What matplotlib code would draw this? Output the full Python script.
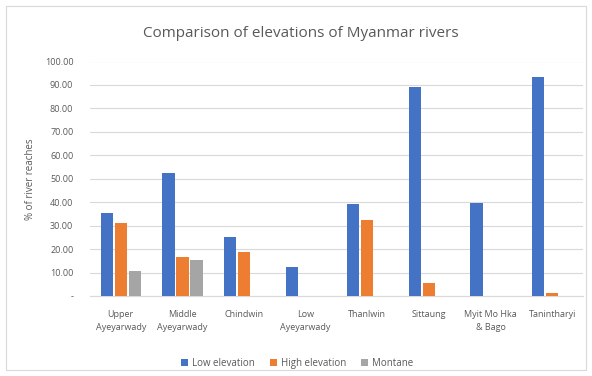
import matplotlib.pyplot as plt
import matplotlib.patches as patches
import numpy as np

rivers = ["Upper\nAyeyarwady", "Middle\nAyeyarwady", "Chindwin", "Low\nAyeyarwady",
          "Thanlwin", "Sittaung", "Myit Mo Hka\n& Bago", "Tanintharyi"]
low_elev = [35.3, 52.6, 25.3, 12.5, 39.3, 89.1, 39.8, 93.3]
high_elev = [31.0, 16.8, 18.8, 0, 32.4, 5.7, 0, 1.4]
montane = [10.8, 15.4, 0, 0, 0, 0, 0, 0]
yticks = [0, 10, 20, 30, 40, 50, 60, 70, 80, 90, 100]
ytick_labels = ["-", "10.00", "20.00", "30.00", "40.00", "50.00", "60.00",
                "70.00", "80.00", "90.00", "100.00"]

plt.rcParams['font.family'] = ['Open Sans', 'DejaVu Sans']
txt = '#595959'

fig = plt.figure(figsize=(5.92, 3.76), dpi=100)
ax = fig.add_axes([90/592, 1 - 296/376, 493/592, 234.5/376])

x = np.arange(len(rivers))
w = 0.2
step = 0.227
ax.bar(x - step, low_elev, w, color='#4472C4', label='Low elevation', zorder=3)
ax.bar(x, high_elev, w, color='#ED7D31', label='High elevation', zorder=3)
ax.bar(x + step, montane, w, color='#A5A5A5', label='Montane', zorder=3)

ax.set_xlim(-0.5, len(rivers) - 0.5)
ax.set_ylim(0, 100)
ax.set_yticks(yticks)
ax.set_yticklabels(ytick_labels)
ax.set_xticks(x)
ax.set_xticklabels(rivers, linespacing=1.6)
ax.tick_params(axis='both', length=0, labelsize=6.5, colors=txt)
ax.tick_params(axis='y', pad=12)
ax.tick_params(axis='x', pad=10)
ax.yaxis.grid(True, color='#D9D9D9', linewidth=0.8, zorder=0)
for s in ['top', 'right', 'left']:
    ax.spines[s].set_visible(False)
ax.spines['bottom'].set_color('#D9D9D9')

ax.set_ylabel('% of river reaches', fontsize=7, color=txt, labelpad=6)
fig.text(0.508, 0.912, 'Comparison of elevations of Myanmar rivers', ha='center', va='center',
         fontsize=11, color=txt)

ax.legend(loc='upper center', bbox_to_anchor=(0.42, -0.225), ncol=3, frameon=False,
          fontsize=7, labelcolor=txt, handlelength=0.7, handleheight=0.7,
          columnspacing=1.6, handletextpad=0.4)

fig.patches.append(patches.Rectangle((6/592, 6/376), 580/592, 364/376, transform=fig.transFigure,
                                     fill=False, edgecolor='#D9D9D9', linewidth=0.8))

fig.savefig('out.png', dpi=100)
